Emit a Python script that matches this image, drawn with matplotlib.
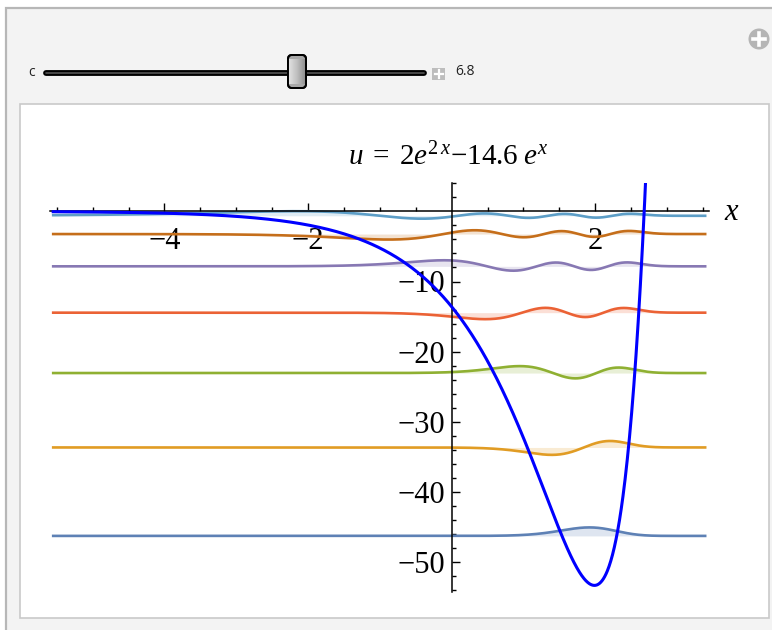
import math
import numpy as np
import matplotlib
matplotlib.use("Agg")
import matplotlib.pyplot as plt
from matplotlib.patches import Rectangle, FancyBboxPatch, Circle

# --- values -------------------------------------------------------------
c_value = "6.8"                       # slider readout
pot_a, pot_b = 1.0, 14.6              # drawn curve: u = a e^{2x} - b e^x
title_text = r'$u\;=\;2\mathit{e}^{2\,x}{-}14.6\;\mathit{e}^{x}$'

# bound-state energies, n = 0..6
levels = [-46.24, -33.64, -23.04, -14.44, -7.84, -3.24, -0.64]
level_colors = ['#5E81B5', '#E19C24', '#8FB032', '#EB6235',
                '#8778B3', '#C56E1A', '#5D9EC7']

x_start, x_end = -5.55, 3.53
x_major = [-4, -2, 2]
x_major_labels = ['\u22124', '\u22122', '2']
x_minor = [-5.5, -5, -4.5, -3.5, -3, -2.5, -1.5, -1, -0.5,
           0.5, 1, 1.5, 2.5, 3, 3.5]
y_major = [-10, -20, -30, -40, -50]
y_major_labels = ['\u221210', '\u221220', '\u221230', '\u221240', '\u221250']
y_minor = [4, 2, -2, -4, -6, -8, -12, -14, -16, -18, -22, -24, -26, -28,
           -32, -34, -36, -38, -42, -44, -46, -48, -52, -54]


def morse_state(x, n, energy):
    # bound state of -psi'' + (a e^{2x} - b e^x) psi = E psi
    s = math.sqrt(-energy)
    alpha = 2 * s
    xi = 2 * math.sqrt(pot_a) * np.exp(x)
    lag = np.zeros_like(xi)
    for k in range(n + 1):
        binom = math.gamma(n + alpha + 1) / (math.gamma(n - k + 1) * math.gamma(alpha + k + 1))
        lag += (-1) ** k * binom * xi ** k / math.factorial(k)
    return (-1) ** n * xi ** s * np.exp(-xi / 2) * lag


def normalised(x, n, energy):
    g = np.linspace(-25, 6, 40000)
    pg = morse_state(g, n, energy)
    norm = math.sqrt(np.trapezoid(pg ** 2, g))
    return morse_state(x, n, energy) / norm


# --- figure ---------------------------------------------------------------
W, H = 772, 630
fig = plt.figure(figsize=(W / 100, H / 100), dpi=100, facecolor='white')

bg = fig.add_axes([0, 0, 1, 1], zorder=0)
bg.set_xlim(0, W)
bg.set_ylim(H, 0)
bg.axis('off')

# panel frames
bg.add_patch(Rectangle((6, 8), 900, 800, fc='#F3F3F3', ec='#B7B7B7', lw=1.6))
bg.add_patch(Rectangle((19.5, 103.5), 749.5, 514.5, fc='white', ec='#C9C9C9', lw=1.2))

# slider
bg.text(32, 72, 'c', fontsize=10, family='Open Sans', color='#222222',
        ha='center', va='center')
bg.plot([46, 424], [73, 73], color='black', lw=4.2, solid_capstyle='round')
bg.plot([46, 424], [73, 73], color='#555555', lw=1.2, solid_capstyle='round')
thumb = FancyBboxPatch((288, 55), 18, 33, boxstyle='round,pad=0,rounding_size=4',
                       fc='#A8A8A8', ec='black', lw=1.4, zorder=3)
bg.add_patch(thumb)
grad = np.linspace(0, 1, 40)[None, :]
grad = np.vstack([grad] * 30)
im = bg.imshow(grad, extent=[288, 306, 84, 59], cmap='Greys', vmin=-0.6, vmax=2.4,
               aspect='auto', zorder=3.5)
im.set_clip_path(thumb)
bg.add_patch(FancyBboxPatch((288, 55), 18, 33, boxstyle='round,pad=0,rounding_size=4',
                            fc='none', ec='black', lw=1.4, zorder=4))
bg.add_patch(Rectangle((432, 68), 13, 12, fc='#BDBDBD', ec='none'))
bg.plot([434.5, 442.5], [74, 74], color='white', lw=1.6)
bg.plot([438.5, 438.5], [70, 78], color='white', lw=1.6)
bg.text(455, 71.5, c_value, fontsize=10, family='Open Sans', color='#222222',
        ha='left', va='center')

# corner button
bg.add_patch(Circle((759, 39), 10.5, fc='#B5B5B5', ec='none'))
bg.plot([753, 765], [39, 39], color='white', lw=2.6)
bg.plot([759, 759], [33, 45], color='white', lw=2.6)

# --- plot axes placed by pixel scale --------------------------------------
px_x0, px_per_x = 451.7, 71.8
px_y0, px_per_y = 211.3, 7.02
xlim = (-5.6, 3.58)
ylim = (-54.2, 4.03)
left_px = px_x0 + xlim[0] * px_per_x
right_px = px_x0 + xlim[1] * px_per_x
top_px = px_y0 - ylim[1] * px_per_y
bot_px = px_y0 - ylim[0] * px_per_y
ax = fig.add_axes([left_px / W, 1 - bot_px / H, (right_px - left_px) / W,
                   (bot_px - top_px) / H], zorder=1)
ax.patch.set_visible(False)
ax.set_xlim(*xlim)
ax.set_ylim(*ylim)

x = np.linspace(x_start, x_end, 1500)
for n, (E, col) in enumerate(zip(levels, level_colors)):
    psi = normalised(x, n, E)
    ax.fill_between(x, E, E + psi, color=col, alpha=0.2, lw=0, zorder=1)
    ax.plot(x, E + psi, color=col, lw=1.9, zorder=2)

u = pot_a * np.exp(2 * x) - pot_b * np.exp(x)
ax.plot(x, u, color='#0000FF', lw=2.2, zorder=3)

for side in ('top', 'right'):
    ax.spines[side].set_visible(False)
ax.spines['left'].set_position(('data', 0))
ax.spines['bottom'].set_position(('data', 0))
for side in ('left', 'bottom'):
    ax.spines[side].set_linewidth(1.1)
    ax.spines[side].set_zorder(2.5)

ax.set_xticks(x_major)
ax.set_xticklabels(x_major_labels)
ax.set_xticks(x_minor, minor=True)
ax.set_yticks(y_major)
ax.set_yticklabels(y_major_labels)
ax.set_yticks(y_minor, minor=True)
ax.tick_params(which='both', direction='in', width=1.0, color='black')
ax.tick_params(which='major', length=5.5)
ax.tick_params(which='minor', length=3)
ax.tick_params(axis='x', which='major', pad=11)
ax.tick_params(axis='y', which='major', pad=4.5)
for lab in ax.get_xticklabels() + ax.get_yticklabels():
    lab.set_fontfamily('Liberation Serif')
    lab.set_fontsize(22)
ax.set_axisbelow(True)

plt.rcParams['mathtext.fontset'] = 'custom'
plt.rcParams['mathtext.rm'] = 'Liberation Serif'
plt.rcParams['mathtext.it'] = 'Liberation Serif:italic'
bg.text(448, 165, title_text, fontsize=21, ha='center', va='baseline', zorder=5)
bg.text(724, 220, 'x', fontsize=22, family='Liberation Serif', style='italic',
        ha='left', va='baseline', zorder=5)

fig.savefig('out.png', dpi=100, facecolor='white')
